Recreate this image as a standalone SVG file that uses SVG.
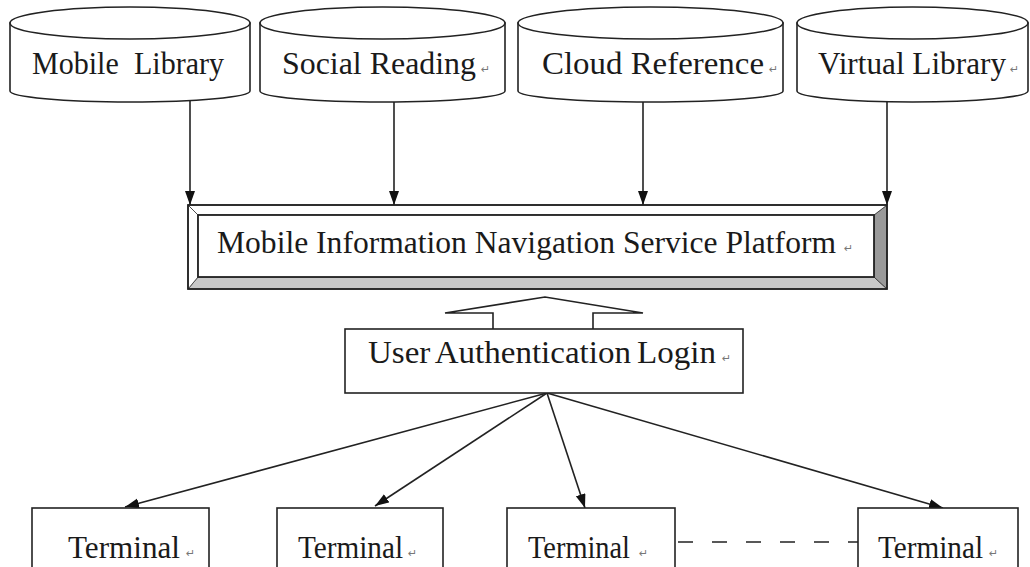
<svg xmlns="http://www.w3.org/2000/svg" width="1030" height="567" viewBox="0 0 1030 567">
<style>
.shape{fill:#fff;stroke:#222;stroke-width:1.6}
.lbl{font-family:"Liberation Serif","Times New Roman",serif;font-size:31px;fill:#1a1a1a}
.ret{font-family:"DejaVu Sans",sans-serif;font-size:11px;fill:#777}
.conn{fill:none;stroke:#222;stroke-width:1.6}
</style>
<defs>
<marker id="ah" markerUnits="userSpaceOnUse" markerWidth="15" markerHeight="11" refX="14" refY="5" orient="auto">
<path d="M0,0 L14,5 L0,10 z" fill="#111"/>
</marker>
</defs>
<rect width="1030" height="567" fill="#fff"/>

<g id="connectors">
<line class="conn" x1="190" y1="100" x2="190" y2="205" marker-end="url(#ah)"/>
<line class="conn" x1="394" y1="100" x2="394" y2="205" marker-end="url(#ah)"/>
<line class="conn" x1="643" y1="100" x2="643" y2="205" marker-end="url(#ah)"/>
<line class="conn" x1="887" y1="100" x2="887" y2="205" marker-end="url(#ah)"/>
<polyline class="conn" points="493,329 493,313 445,313 545,297 643,313 593,313 593,329" style="fill:#fff"/>
<line class="conn" x1="547" y1="393" x2="125" y2="507" marker-end="url(#ah)"/>
<line class="conn" x1="547" y1="393" x2="375" y2="506" marker-end="url(#ah)"/>
<line class="conn" x1="547" y1="393" x2="585" y2="508" marker-end="url(#ah)"/>
<line class="conn" x1="547" y1="393" x2="943" y2="508" marker-end="url(#ah)"/>
<line class="conn" x1="678" y1="542" x2="858" y2="542" stroke-dasharray="15 19"/>
</g>

<g id="mobile-library">
<path class="shape" d="M10,23 L10,91 A120,11 0 0 0 250,91 L250,23 Z"/>
<ellipse class="shape" cx="130" cy="23" rx="120" ry="16"/>
<text class="lbl" x="32" y="74" textLength="192" lengthAdjust="spacingAndGlyphs" word-spacing="8">Mobile Library</text>
</g>

<g id="social-reading">
<path class="shape" d="M260,23 L260,91 A122.5,11 0 0 0 505,91 L505,23 Z"/>
<ellipse class="shape" cx="382.5" cy="23" rx="122.5" ry="16"/>
<text class="lbl" x="282" y="74" textLength="194" lengthAdjust="spacingAndGlyphs">Social Reading</text>
<text class="ret" x="481" y="73">↵</text>
</g>

<g id="cloud-reference">
<path class="shape" d="M518,23 L518,91 A132.5,11 0 0 0 783,91 L783,23 Z"/>
<ellipse class="shape" cx="650.5" cy="23" rx="132.5" ry="16"/>
<text class="lbl" x="542" y="74" textLength="222" lengthAdjust="spacingAndGlyphs">Cloud Reference</text>
<text class="ret" x="769" y="73">↵</text>
</g>

<g id="virtual-library">
<path class="shape" d="M797,23 L797,91 A115.5,11 0 0 0 1028,91 L1028,23 Z"/>
<ellipse class="shape" cx="912.5" cy="23" rx="115.5" ry="16"/>
<text class="lbl" x="818" y="74" textLength="188" lengthAdjust="spacingAndGlyphs">Virtual Library</text>
<text class="ret" x="1010" y="73">↵</text>
</g>

<g id="platform">
<rect x="188" y="205" width="699" height="84" fill="#fff" stroke="none"/>
<polygon points="188,289 887,289 874,277 198,277" fill="#c8c8c8" stroke="#333" stroke-width="0.8"/>
<polygon points="887,205 887,289 874,277 874,215" fill="#9a9a9a" stroke="#333" stroke-width="0.8"/>
<polygon points="188,205 198,215 198,277 188,289" fill="#fff" stroke="#333" stroke-width="0.8"/>
<polygon points="188,205 887,205 874,215 198,215" fill="#fff" stroke="#333" stroke-width="0.8"/>
<rect x="188" y="205" width="699" height="84" fill="none" stroke="#222" stroke-width="1.8"/>
<rect x="198" y="215" width="676" height="62" fill="#fff" stroke="#222" stroke-width="1.8"/>
<text class="lbl" x="217" y="253" textLength="619" lengthAdjust="spacingAndGlyphs">Mobile Information Navigation Service Platform</text>
<text class="ret" x="844" y="252">↵</text>
</g>

<g id="user-auth">
<rect class="shape" x="345" y="329" width="398" height="64"/>
<text class="lbl" x="368" y="363" textLength="348" lengthAdjust="spacingAndGlyphs" word-spacing="-2">User Authentication Login</text>
<text class="ret" x="722" y="362">↵</text>
</g>

<g id="terminal-1">
<rect class="shape" x="32" y="508" width="177" height="70"/>
<text class="lbl" x="68" y="558" textLength="112" lengthAdjust="spacingAndGlyphs">Terminal</text>
<text class="ret" x="186" y="557">↵</text>
</g>
<g id="terminal-2">
<rect class="shape" x="277" y="508" width="166" height="70"/>
<text class="lbl" x="298" y="558" textLength="105" lengthAdjust="spacingAndGlyphs">Terminal</text>
<text class="ret" x="408" y="557">↵</text>
</g>
<g id="terminal-3">
<rect class="shape" x="507" y="508" width="168" height="70"/>
<text class="lbl" x="528" y="558" textLength="102" lengthAdjust="spacingAndGlyphs">Terminal</text>
<text class="ret" x="639" y="557">↵</text>
</g>
<g id="terminal-4">
<rect class="shape" x="858" y="508" width="160" height="70"/>
<text class="lbl" x="878" y="558" textLength="105" lengthAdjust="spacingAndGlyphs">Terminal</text>
<text class="ret" x="989" y="557">↵</text>
</g>
</svg>
